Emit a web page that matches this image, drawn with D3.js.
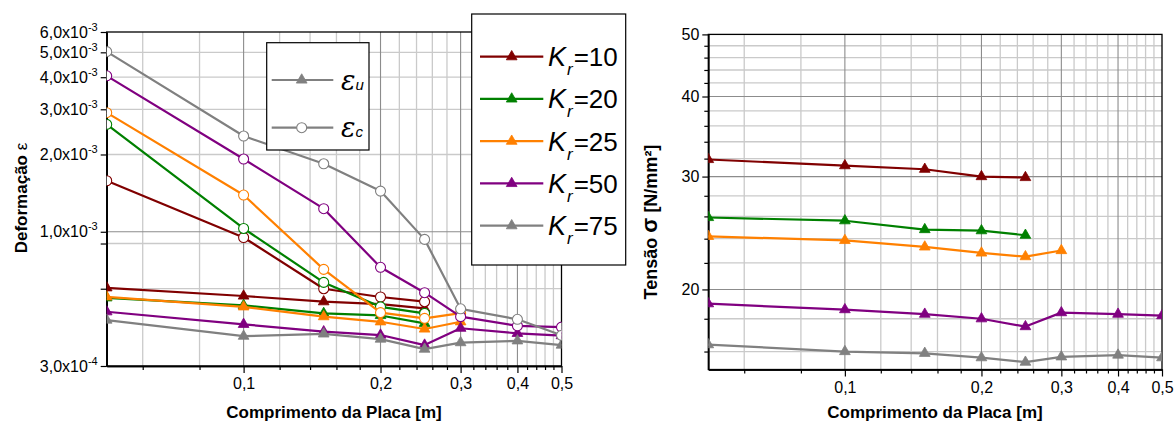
<!DOCTYPE html>
<html>
<head>
<meta charset="utf-8">
<script src="https://cdn.jsdelivr.net/npm/d3@7"></script>
<style>
  body { margin: 0; background: #fff; }
  svg { display: block; font-family: "Liberation Sans", Arial, sans-serif; }
</style>
</head>
<body>
<svg id="chart" width="1175" height="425"></svg>
<script>
// Plate lengths [m]
const lengths = [0.05, 0.1, 0.15, 0.2, 0.25, 0.3, 0.4, 0.5];
const krValues = [10, 20, 25, 50, 75];
const krColors = ["#800000", "#008000", "#ff8000", "#800080", "#808080"];

// Strain εu (triangles) for each Kr
const epsU10 = [6.05e-4, 5.62e-4, 5.34e-4, 5.23e-4, 5.03e-4];
const epsU20 = [5.53e-4, 5.17e-4, 4.81e-4, 4.72e-4, 4.40e-4];
const epsU25 = [5.58e-4, 5.10e-4, 4.67e-4, 4.46e-4, 4.18e-4, 4.46e-4];
const epsU50 = [4.88e-4, 4.36e-4, 4.08e-4, 3.96e-4, 3.62e-4, 4.21e-4, 4.02e-4, 3.94e-4];
const epsU75 = [4.53e-4, 3.92e-4, 4.00e-4, 3.82e-4, 3.49e-4, 3.70e-4, 3.76e-4, 3.62e-4];

// Strain εc (open circles) for each Kr
const epsC10 = [1.58e-3, 9.5e-4, 6.0e-4, 5.57e-4, 5.34e-4];
const epsC20 = [2.62e-3, 1.03e-3, 6.35e-4, 5.10e-4, 4.81e-4];
const epsC25 = [2.91e-3, 1.39e-3, 7.14e-4, 4.84e-4, 4.60e-4, 4.82e-4];
const epsC50 = [4.05e-3, 1.92e-3, 1.23e-3, 7.27e-4, 5.79e-4, 4.67e-4, 4.30e-4, 4.25e-4];
const epsC75 = [5.03e-3, 2.36e-3, 1.84e-3, 1.44e-3, 9.34e-4, 5.01e-4, 4.56e-4, 3.95e-4];

// Stress σ [N/mm²] for each Kr
const sigma10 = [31.9, 31.2, 30.8, 30.0, 29.9];
const sigma20 = [25.9, 25.6, 24.8, 24.7, 24.3];
const sigma25 = [24.2, 23.85, 23.3, 22.8, 22.5, 23.0];
const sigma50 = [19.0, 18.6, 18.3, 18.0, 17.5, 18.4, 18.3, 18.2];
const sigma75 = [16.4, 16.0, 15.9, 15.65, 15.4, 15.7, 15.8, 15.65];

// Tick definitions
const xTickValues = [0.1, 0.2, 0.3, 0.4, 0.5];
const xTickLabels = ["0,1", "0,2", "0,3", "0,4", "0,5"];
const xMinorValues = [0.06, 0.08, 0.12, 0.14, 0.16, 0.18, 0.22, 0.24, 0.26, 0.28,
                      0.32, 0.34, 0.36, 0.38, 0.42, 0.44, 0.46, 0.48];
const xGridMajor = [0.1, 0.2, 0.3, 0.4];

const epsTickValues = [6e-3, 5e-3, 4e-3, 3e-3, 2e-3, 1e-3, 3e-4];
const epsTickMantissa = ["6,0", "5,0", "4,0", "3,0", "2,0", "1,0", "3,0"];
const epsTickExponent = ["-3", "-3", "-3", "-3", "-3", "-3", "-4"];
const epsMinorValues = [9e-4, 6e-4];
const epsGridMajor = [1e-3];
const epsGridMinor = [5e-3, 4e-3, 3e-3, 2e-3, 9e-4, 6e-4];

const sigmaTickValues = [20, 30, 40, 50];
const sigmaMinorValues = [16, 18, 22, 24, 26, 28, 32, 34, 36, 38, 42, 44, 46, 48];
const sigmaGridMajor = [20, 30, 40];

const epsUSeries = [epsU10, epsU20, epsU25, epsU50, epsU75];
const epsCSeries = [epsC10, epsC20, epsC25, epsC50, epsC75];
const sigmaSeries = [sigma10, sigma20, sigma25, sigma50, sigma75];

const svg = d3.select("#chart");
svg.append("rect").attr("width", 1175).attr("height", 425).attr("fill", "#fff");

const GRID_LIGHT = "#cacaca";
const GRID_DARK = "#8c8c8c";
const tri = d3.symbol().type(d3.symbolTriangle).size(50);

function panel(opts) {
  const { x, y, id } = opts;
  const [x0, x1] = x.range();
  const [y0, y1] = y.range(); // y0 bottom, y1 top
  const g = svg.append("g");

  g.append("clipPath").attr("id", id)
    .append("rect").attr("x", x0).attr("y", y1).attr("width", x1 - x0).attr("height", y0 - y1);

  // grid
  const grid = g.append("g");
  xMinorValues.forEach(v => grid.append("line")
    .attr("x1", x(v)).attr("x2", x(v)).attr("y1", y1).attr("y2", y0)
    .attr("stroke", GRID_LIGHT).attr("stroke-width", 1.3));
  opts.yGridMinor.forEach(v => grid.append("line")
    .attr("x1", x0).attr("x2", x1).attr("y1", y(v)).attr("y2", y(v))
    .attr("stroke", GRID_LIGHT).attr("stroke-width", 1.3));
  xGridMajor.forEach(v => grid.append("line")
    .attr("x1", x(v)).attr("x2", x(v)).attr("y1", y1).attr("y2", y0)
    .attr("stroke", GRID_DARK).attr("stroke-width", 1.1));
  opts.yGridMajor.forEach(v => grid.append("line")
    .attr("x1", x0).attr("x2", x1).attr("y1", y(v)).attr("y2", y(v))
    .attr("stroke", GRID_DARK).attr("stroke-width", 1.1));

  // frame
  g.append("rect").attr("x", x0).attr("y", y1).attr("width", x1 - x0).attr("height", y0 - y1)
    .attr("fill", "none").attr("stroke", "#000").attr("stroke-width", 1.3);

  // axes
  const xAxis = g.append("g").attr("transform", `translate(0,${y0})`)
    .call(d3.axisBottom(x).tickValues(xTickValues).tickSize(7).tickSizeOuter(0)
      .tickFormat((d, i) => xTickLabels[i]));
  const xMinorAxis = g.append("g").attr("transform", `translate(0,${y0})`)
    .call(d3.axisBottom(x).tickValues(xMinorValues).tickSize(4).tickSizeOuter(0).tickFormat(""));
  const yAxis = g.append("g").attr("transform", `translate(${x0},0)`)
    .call(d3.axisLeft(y).tickValues(opts.yTicks).tickSize(6).tickSizeOuter(0)
      .tickFormat(opts.yFormat));
  const yMinorAxis = g.append("g").attr("transform", `translate(${x0},0)`)
    .call(d3.axisLeft(y).tickValues(opts.yMinor).tickSize(opts.yMinorSize).tickSizeOuter(0).tickFormat(""));

  [xAxis, xMinorAxis, yAxis, yMinorAxis].forEach(a => {
    a.select(".domain").attr("stroke", "#000").attr("stroke-width", 1.3);
    a.selectAll(".tick line").attr("stroke", "#000").attr("stroke-width", 1.2);
    a.selectAll(".tick text").attr("fill", "#000").attr("font-size", 16)
      .attr("font-family", "Liberation Sans, Arial, sans-serif");
  });
  xAxis.selectAll(".tick text").attr("y", 12);
  yAxis.selectAll(".tick text").attr("x", -9);
  if (opts.decorateY) opts.decorateY(yAxis);

  // data
  const data = g.append("g").attr("clip-path", `url(#${id})`);
  return { g, data };
}

function drawSeries(layer, x, y, values, color, marker) {
  const pts = values.map((v, i) => [lengths[i], v]);
  const line = d3.line().x(d => x(d[0])).y(d => y(d[1]));
  layer.append("path").attr("d", line(pts)).attr("fill", "none")
    .attr("stroke", color).attr("stroke-width", 2.2).attr("stroke-linejoin", "round");
  if (marker === "triangle") {
    layer.selectAll(null).data(pts).enter().append("path")
      .attr("d", tri).attr("transform", d => `translate(${x(d[0])},${y(d[1])})`)
      .attr("fill", color).attr("stroke", color).attr("stroke-width", 0.8);
  } else {
    layer.selectAll(null).data(pts).enter().append("circle")
      .attr("cx", d => x(d[0])).attr("cy", d => y(d[1])).attr("r", 5)
      .attr("fill", "#fff").attr("stroke", color).attr("stroke-width", 1.1);
  }
}

// ---- Left panel: strain ----
const xL = d3.scaleLog().domain([0.05, 0.5]).range([106.7, 561.5]);
const yL = d3.scaleLog().domain([3e-4, 6e-3]).range([366, 32]);
const left = panel({
  x: xL, y: yL, id: "clipL",
  yTicks: epsTickValues, yMinor: epsMinorValues, yMinorSize: 6,
  yGridMajor: epsGridMajor, yGridMinor: epsGridMinor,
  yFormat: () => "",
  decorateY: ax => {
    ax.selectAll(".tick text").each(function (d, i) {
      const t = d3.select(this);
      t.append("tspan").text(epsTickMantissa[i] + "x10");
      t.append("tspan").attr("dy", -7).attr("font-size", 11).text(epsTickExponent[i]);
    });
  }
});
krValues.forEach((k, i) => drawSeries(left.data, xL, yL, epsUSeries[i], krColors[i], "triangle"));
krValues.forEach((k, i) => drawSeries(left.data, xL, yL, epsCSeries[i], krColors[i], "circle"));

// ---- Right panel: stress ----
const xR = d3.scaleLog().domain([0.05, 0.5]).range([708.3, 1162]);
const yR = d3.scaleLog().domain([15, 50]).range([369.5, 34.4]);
const right = panel({
  x: xR, y: yR, id: "clipR",
  yTicks: sigmaTickValues, yMinor: sigmaMinorValues, yMinorSize: 4,
  yGridMajor: sigmaGridMajor, yGridMinor: sigmaMinorValues,
  yFormat: d => String(d)
});
krValues.forEach((k, i) => drawSeries(right.data, xR, yR, sigmaSeries[i], krColors[i], "triangle"));

// ---- Axis titles ----
const titleFont = "Liberation Sans, Arial, sans-serif";
[[334, "Comprimento da Placa [m]"], [935, "Comprimento da Placa [m]"]].forEach(([cx, txt]) => {
  svg.append("text").attr("x", cx).attr("y", 418).attr("text-anchor", "middle")
    .attr("font-family", titleFont).attr("font-weight", "bold").attr("font-size", 17).text(txt);
});
const yt1 = svg.append("text").attr("transform", "translate(27,198) rotate(-90)")
  .attr("text-anchor", "middle").attr("font-family", titleFont).attr("font-size", 17);
yt1.append("tspan").attr("font-weight", "bold").text("Deformação ");
yt1.append("tspan").text("ε");
const yt2 = svg.append("text").attr("transform", "translate(657,222) rotate(-90)")
  .attr("text-anchor", "middle").attr("font-family", titleFont).attr("font-size", 18)
  .attr("font-weight", "bold");
yt2.append("tspan").text("Tensão ");
yt2.append("tspan").attr("font-size", 22).text("σ");
yt2.append("tspan").text(" [N/mm²]");

// ---- Legend: strain type ----
const legE = svg.append("g");
legE.append("rect").attr("x", 266.7).attr("y", 42.7).attr("width", 102.3).attr("height", 107.3)
  .attr("fill", "#fff").attr("stroke", "#000").attr("stroke-width", 1.2);
[["u", 80, "triangle"], ["c", 127.7, "circle"]].forEach(([sub, ly, m]) => {
  legE.append("line").attr("x1", 271.7).attr("x2", 333.3).attr("y1", ly).attr("y2", ly)
    .attr("stroke", "#808080").attr("stroke-width", 2.2);
  if (m === "triangle") {
    legE.append("path").attr("d", tri).attr("transform", `translate(301.7,${ly})`)
      .attr("fill", "#808080").attr("stroke", "#808080").attr("stroke-width", 0.8);
  } else {
    legE.append("circle").attr("cx", 301.7).attr("cy", ly).attr("r", 5)
      .attr("fill", "#fff").attr("stroke", "#808080").attr("stroke-width", 1.1);
  }
  const t = legE.append("text").attr("x", 341).attr("y", ly + 9.5)
    .attr("font-family", "DejaVu Serif, serif").attr("font-style", "italic");
  t.append("tspan").attr("font-size", 27).text("ε");
  t.append("tspan").attr("font-size", 15).attr("font-family", titleFont).text(sub);
});

// ---- Legend: Kr ----
const legK = svg.append("g");
legK.append("rect").attr("x", 471.7).attr("y", 14).attr("width", 154).attr("height", 251)
  .attr("fill", "#fff").attr("stroke", "#000").attr("stroke-width", 1.2);
krValues.forEach((k, i) => {
  const ly = 56.7 + i * 42.25;
  legK.append("line").attr("x1", 480).attr("x2", 543.3).attr("y1", ly).attr("y2", ly)
    .attr("stroke", krColors[i]).attr("stroke-width", 2.2);
  legK.append("path").attr("d", tri).attr("transform", `translate(511.7,${ly})`)
    .attr("fill", krColors[i]).attr("stroke", krColors[i]).attr("stroke-width", 0.8);
  const t = legK.append("text").attr("x", 548).attr("y", ly + 9.5).attr("font-family", titleFont);
  t.append("tspan").attr("font-size", 27).attr("font-style", "italic").text("K");
  t.append("tspan").attr("font-size", 17).attr("font-style", "italic")
    .attr("dx", 1).attr("dy", 9).text("r");
  t.append("tspan").attr("font-size", 26).attr("dx", 1).attr("dy", -9).text("=" + k);
});
</script>
</body>
</html>
